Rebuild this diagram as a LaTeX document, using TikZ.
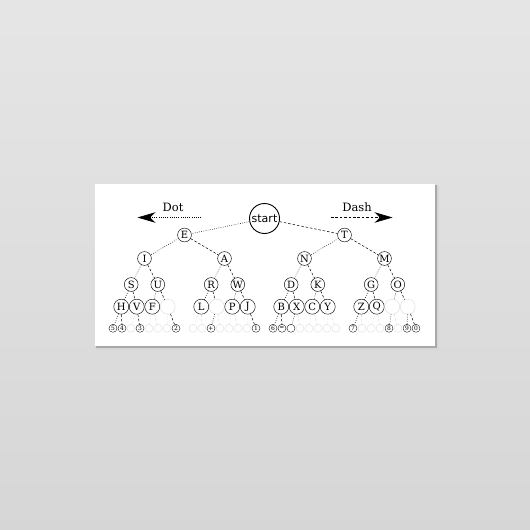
\documentclass[tikz,border=0pt]{standalone}
\usepackage{fontspec}
\setmainfont{DejaVu Serif}
\newfontfamily\startfont{DejaVu Sans}
\usetikzlibrary{arrows.meta}
\begin{document}
\begin{tikzpicture}[x=1pt,y=-1pt,
  cc/.style={circle,draw,line width=0.45pt,inner sep=0pt,minimum size=13.8pt,font=\fontsize{10}{10}\selectfont},
  c4/.style={cc,minimum size=15pt},
  c5/.style={circle,draw,line width=0.35pt,inner sep=0pt,minimum size=8pt,font=\fontsize{6}{6}\selectfont},
  bigc/.style={circle,draw,line width=0.9pt,inner sep=0pt,minimum size=30pt,font=\startfont\fontsize{11}{11}\selectfont},
  ink/.style={draw=black},
  pale/.style={draw=black!14},
  dotl/.style={line width=0.5pt,dash pattern=on 0.7pt off 1.5pt},
  dashl/.style={line width=0.5pt,dash pattern=on 2.6pt off 1.8pt},
  lbl/.style={font=\fontsize{11.5}{11.5}\selectfont,inner sep=0pt}
]
\useasboundingbox (0,0) rectangle (530,530);
% background and canvas
\shade[top color=black!10,bottom color=black!16] (0,0) rectangle (530,530);
\fill[black!16] (96,185) rectangle (438.5,349.5);
\fill[black!34] (96,185) rectangle (436.5,347.5);
\fill[white] (95,184) rectangle (435,346);

% root and direction arrows
\node[bigc] (root) at (264.5,218.5) {start};
\node[lbl] (dottext) at (173,207.5) {Dot};
\node[lbl] (dashtext) at (357,207.5) {Dash};
\coordinate (dotA) at (201,217.5);
\coordinate (dotB) at (137.5,217.5);
\coordinate (dashA) at (331,217.5);
\coordinate (dashB) at (392.5,217.5);
\draw[dotl,line width=0.6pt,-{Stealth[length=18pt,width=10.5pt,inset=5.5pt]}] (dotA) -- (dotB);
\draw[dashl,line width=0.6pt,-{Stealth[length=18pt,width=10.5pt,inset=5.5pt]}] (dashA) -- (dashB);

% level 1
\node[cc] (E) at (184.5,235) {E};
\node[cc] (T) at (344.5,235) {T};
% level 2
\node[cc] (I) at (144.5,258.5) {I};
\node[cc] (A) at (224.5,258.5) {A};
\node[cc] (N) at (304.5,258.5) {N};
\node[cc] (M) at (384.5,258.5) {M};
% level 3
\node[cc] (S) at (131.2,284.5) {S};
\node[cc] (U) at (157.8,284.5) {U};
\node[cc] (R) at (211.2,284.5) {R};
\node[cc] (W) at (237.8,284.5) {W};
\node[cc] (D) at (291.2,284.5) {D};
\node[cc] (K) at (317.8,284.5) {K};
\node[cc] (G) at (371.2,284.5) {G};
\node[cc] (O) at (397.8,284.5) {O};
% level 4
\node[c4] (qi0) at (121.25,306.7) {H};
\node[c4] (qi1) at (136.75,306.7) {V};
\node[c4] (qi2) at (152.25,306.7) {F};
\node[c4,pale] (qi3) at (167.75,306.7) {};
\node[c4] (qa0) at (201.25,306.7) {L};
\node[c4,pale] (qa1) at (216.75,306.7) {};
\node[c4] (qa2) at (232.25,306.7) {P};
\node[c4] (qa3) at (247.75,306.7) {J};
\node[c4] (qn0) at (281.25,306.7) {B};
\node[c4] (qn1) at (296.75,306.7) {X};
\node[c4] (qn2) at (312.25,306.7) {C};
\node[c4] (qn3) at (327.75,306.7) {Y};
\node[c4] (qm0) at (361.25,306.7) {Z};
\node[c4] (qm1) at (376.75,306.7) {Q};
\node[c4,pale] (qm2) at (392.25,306.7) {};
\node[c4,pale] (qm3) at (407.75,306.7) {};

% edges levels 0-4
\draw[dotl] (root) -- (E);  \draw[dashl] (root) -- (T);
\draw[dotl] (E) -- (I);     \draw[dashl] (E) -- (A);
\draw[dotl] (T) -- (N);     \draw[dashl] (T) -- (M);
\draw[dotl] (I) -- (S);     \draw[dashl] (I) -- (U);
\draw[dotl] (A) -- (R);     \draw[dashl] (A) -- (W);
\draw[dotl] (N) -- (D);     \draw[dashl] (N) -- (K);
\draw[dotl] (M) -- (G);     \draw[dashl] (M) -- (O);
\draw[dotl] (S) -- (qi0);   \draw[dashl] (S) -- (qi1);
\draw[dotl] (U) -- (qi2);   \draw[dashl] (U) -- (qi3);
\draw[dotl] (R) -- (qa0);   \draw[dashl] (R) -- (qa1);
\draw[dotl] (W) -- (qa2);   \draw[dashl] (W) -- (qa3);
\draw[dotl] (D) -- (qn0);   \draw[dashl] (D) -- (qn1);
\draw[dotl] (K) -- (qn2);   \draw[dashl] (K) -- (qn3);
\draw[dotl] (G) -- (qm0);   \draw[dashl] (G) -- (qm1);
\draw[dotl] (O) -- (qm2);   \draw[dashl] (O) -- (qm3);

% level 5
\foreach \k/\p/\st/\t/\f in {0/0/dotl/5/ink,1/0/dashl/4/ink,2/1/dotl//pale,3/1/dashl/3/ink,4/2/dotl//pale,5/2/dashl//pale,6/3/dotl//pale,7/3/dashl/2/ink}
 {\node[c5,\f] (pi\k) at ({144.5+(\k-3.5)*9},328.3) {\t}; \draw[\st,\f] (qi\p) -- (pi\k);}
\foreach \k/\p/\st/\t/\f in {0/0/dotl//pale,1/0/dashl//pale,2/1/dotl/+/ink,3/1/dashl//pale,4/2/dotl//pale,5/2/dashl//pale,6/3/dotl//pale,7/3/dashl/1/ink}
 {\node[c5,\f] (pa\k) at ({224.5+(\k-3.5)*9},328.3) {\t}; \draw[\st,\f] (qa\p) -- (pa\k);}
\foreach \k/\p/\st/\t/\f in {0/0/dotl/6/ink,1/0/dashl/=/ink,2/1/dotl///ink,3/1/dashl//pale,4/2/dotl//pale,5/2/dashl//pale,6/3/dotl//pale,7/3/dashl//pale}
 {\node[c5,\f] (pn\k) at ({304.5+(\k-3.5)*9},328.3) {\t}; \draw[\st,\f] (qn\p) -- (pn\k);}
\foreach \k/\p/\st/\t/\f in {0/0/dotl/7/ink,1/0/dashl//pale,2/1/dotl//pale,3/1/dashl//pale,4/2/dotl/8/ink,5/2/dashl//pale,6/3/dotl/9/ink,7/3/dashl/0/ink}
 {\node[c5,\f] (pm\k) at ({384.5+(\k-3.5)*9},328.3) {\t}; \draw[\st,\f] (qm\p) -- (pm\k);}
\end{tikzpicture}
\end{document}
